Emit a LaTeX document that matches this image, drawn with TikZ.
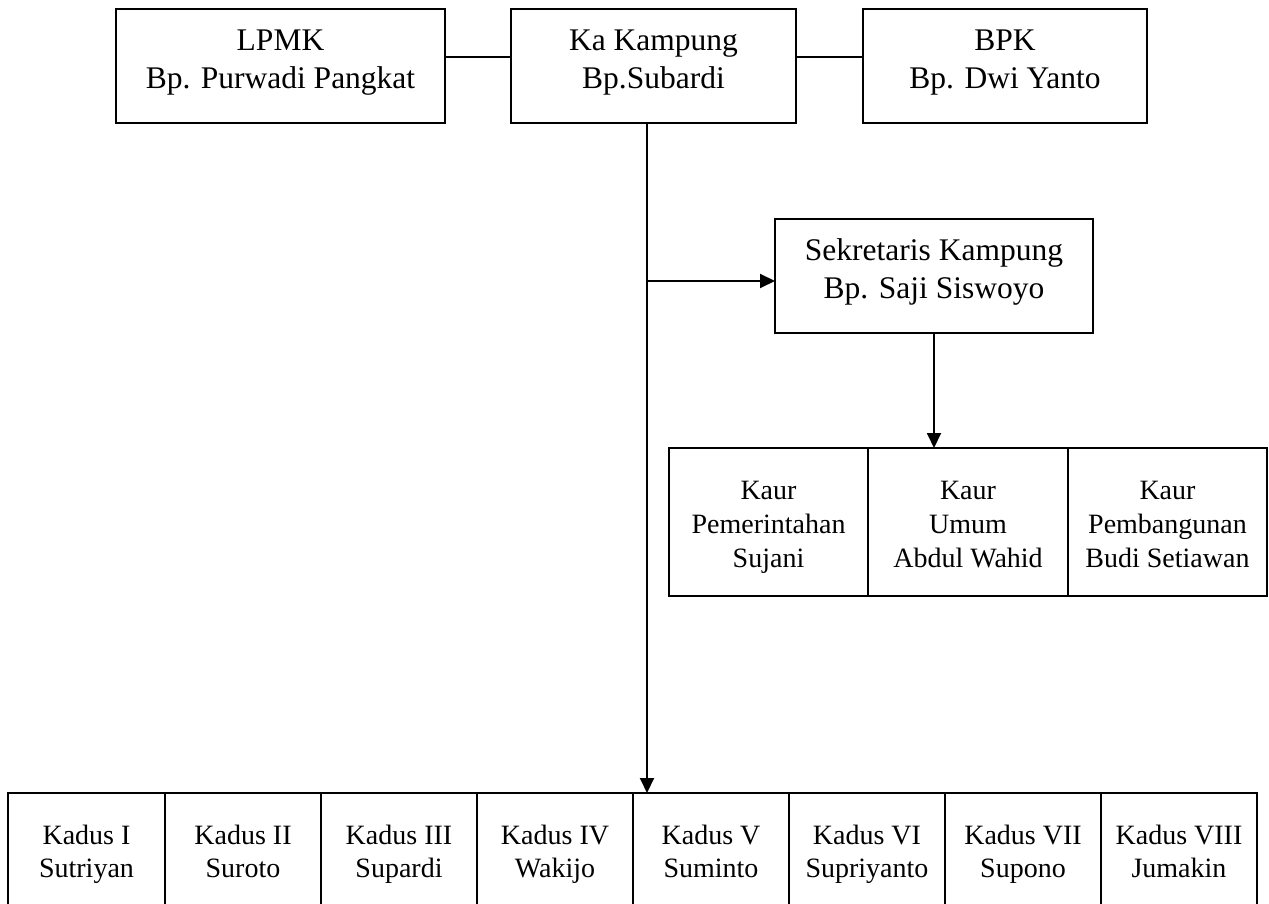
\documentclass[tikz,border=0pt]{standalone}
\usepackage{fontspec}
\setmainfont{Liberation Serif}
\usetikzlibrary{arrows.meta}
\begin{document}
\begin{tikzpicture}[x=1pt,y=-1pt,
  box/.style={draw,line width=1.9pt,rectangle,inner sep=0pt,outer sep=0pt},
  bigtxt/.style={align=center,inner sep=0pt,font=\fontsize{31.5}{38}\selectfont},
  kadustxt/.style={align=center,inner sep=0pt,font=\fontsize{28}{33}\selectfont},
  kaurtxt/.style={align=center,inner sep=0pt,font=\fontsize{28}{34}\selectfont},
  conn/.style={line width=1.9pt},
  arr/.style={line width=1.9pt,-{Triangle[length=15pt,width=14pt]}}]
\useasboundingbox (0,0) rectangle (1269,904);
\clip (0,0) rectangle (1269,904);
% top row
\node[box,minimum width=329pt,minimum height=114pt] (lpmk) at (280.5,66) {};
\node[bigtxt] (lpmkt) at (280.5,61.8) {\strut LPMK\\\strut Bp. Purwadi Pangkat};
\node[box,minimum width=285pt,minimum height=114pt] (ka) at (653.5,66) {};
\node[bigtxt] (kat) at (653.5,61.8) {\strut Ka Kampung\\\strut Bp.Subardi};
\node[box,minimum width=284pt,minimum height=114pt] (bpk) at (1005,66) {};
\node[bigtxt] (bpkt) at (1005,61.8) {\strut BPK\\\strut Bp. Dwi Yanto};
% sekretaris
\node[box,minimum width=318pt,minimum height=114pt] (sek) at (934,276) {};
\node[bigtxt] (sekt) at (934,271.8) {\strut Sekretaris Kampung\\\strut Bp. Saji Siswoyo};
% kaur row
\node[box,minimum width=199pt,minimum height=148pt] (kaur1) at (768.5,522) {};
\node[box,minimum width=200pt,minimum height=148pt] (kaur2) at (968,522) {};
\node[box,minimum width=199pt,minimum height=148pt] (kaur3) at (1167.5,522) {};
\node[kaurtxt] (kaur1t) at (768.5,526.5) {\strut Kaur\\\strut Pemerintahan\\\strut Sujani};
\node[kaurtxt] (kaur2t) at (968,526.5) {\strut Kaur\\\strut Umum\\\strut Abdul Wahid};
\node[kaurtxt] (kaur3t) at (1167.5,526.5) {\strut Kaur\\\strut Pembangunan\\\strut Budi Setiawan};
% kadus row
\foreach \i/\cx/\w/\ta/\tb in {1/86.5/157/Kadus I/Sutriyan,2/243/156/Kadus II/Suroto,3/399/156/Kadus III/Supardi,4/555/156/Kadus IV/Wakijo,5/711/156/Kadus V/Suminto,6/867/156/Kadus VI/Supriyanto,7/1023/156/Kadus VII/Supono,8/1179/156/Kadus VIII/Jumakin}{
  \node[box,minimum width=\w pt,minimum height=140pt] (kd\i) at (\cx,863) {};
  \node[kadustxt] (kd\i t) at (\cx,854.2) {\strut\ta\\\strut\tb};
}
% connectors
\coordinate (ly) at (0,57);
\coordinate (tx) at (647,0);
\coordinate (br) at (647,281);
\draw[conn] (lpmk.east |- ly) -- (ka.west |- ly);
\draw[conn] (ka.east |- ly) -- (bpk.west |- ly);
\draw[arr] (ka.south -| tx) -- (kd5.north -| tx);
\draw[arr] (br) -- (sek.west |- br);
\draw[arr] (sek.south) -- (kaur2.north -| sek.south);
\end{tikzpicture}
\end{document}
